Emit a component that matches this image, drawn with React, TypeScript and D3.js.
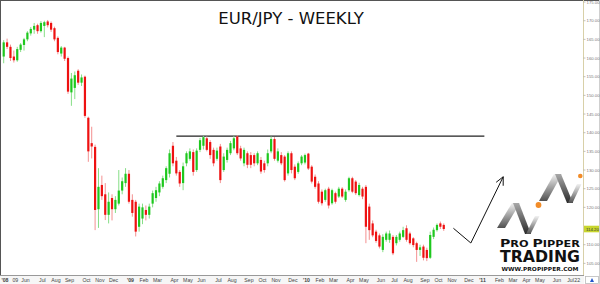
import React from 'react';
import * as d3 from 'd3';

const W = 600;
const H = 284;

// Weekly OHLC, EUR/JPY, first bar week of 2008-04-21, last bar week of 2010-10-18
const weekOpen = [
  160.4, 164.2, 163.0, 160.4, 159.4, 162.2, 163.5, 165.0, 166.6, 167.6,
  168.8, 167.2, 168.6, 169.8, 169.4, 168.0, 165.4, 161.2, 162.8, 160.0,
  150.8, 152.0, 156.6, 153.4, 155.0, 144.0, 137.2, 136.2, 119.5, 126.0,
  123.5, 118.0, 122.5, 119.5, 121.0, 124.5, 126.5, 129.0, 122.0, 121.5,
  114.8, 117.0, 119.3, 118.0, 121.0, 122.5, 124.0, 125.5, 127.3, 129.0,
  136.5, 132.5, 129.5, 126.5, 131.8, 133.0, 134.8, 130.0, 135.4, 136.5,
  138.5, 137.5, 135.4, 133.0, 136.3, 130.0, 132.7, 134.5, 135.8, 139.0,
  135.8, 131.8, 134.5, 134.0, 134.0, 131.8, 132.7, 131.8, 131.8, 135.0,
  138.3, 132.5, 134.0, 133.6, 129.1, 134.5, 130.9, 129.5, 131.8, 132.0,
  134.4, 130.9, 128.2, 126.4, 124.2, 122.0, 125.0, 121.1, 123.8, 122.9,
  125.0, 122.0, 124.6, 127.8, 126.9, 123.3, 125.0, 125.5, 120.2, 115.7,
  113.5, 112.5, 108.6, 111.3, 111.3, 112.1, 110.4, 111.3, 112.1, 114.4,
  113.0, 111.7, 110.4, 108.6, 109.5, 108.6, 106.5, 112.1, 113.9, 115.7,
  115.3,
];
const weekHigh = [
  164.8, 165.2, 163.6, 162.0, 163.0, 164.0, 165.4, 167.2, 168.3, 169.4,
  169.2, 169.9, 170.0, 170.2, 169.8, 168.4, 165.8, 163.2, 163.0, 160.4,
  156.0, 156.4, 157.0, 155.6, 155.3, 144.3, 141.6, 136.8, 130.5, 128.5,
  126.5, 124.0, 123.5, 123.0, 130.0, 128.0, 130.5, 130.0, 123.5, 122.0,
  121.0, 121.0, 120.5, 121.0, 124.5, 125.5, 127.0, 128.5, 131.0, 135.5,
  137.5, 133.5, 130.0, 132.0, 135.0, 135.8, 135.5, 135.8, 138.6, 139.1,
  139.0, 138.0, 136.0, 136.0, 137.0, 134.5, 136.0, 137.8, 139.1, 139.3,
  136.5, 136.0, 135.0, 134.8, 134.5, 135.0, 133.5, 132.5, 135.5, 139.0,
  138.8, 135.8, 134.8, 134.0, 135.0, 135.0, 131.5, 132.3, 134.0, 134.4,
  134.6, 131.3, 128.8, 127.0, 124.8, 125.0, 125.5, 125.0, 124.2, 125.5,
  125.4, 124.8, 128.2, 128.2, 127.3, 126.6, 125.5, 126.0, 121.0, 116.5,
  114.0, 113.0, 112.8, 113.5, 113.8, 112.6, 112.6, 113.5, 114.8, 115.2,
  113.5, 112.0, 110.8, 110.0, 110.0, 109.2, 113.5, 114.6, 115.7, 116.2,
  115.7,
];
const weekLow = [
  158.6, 162.4, 159.2, 158.8, 159.0, 161.6, 162.0, 164.5, 166.0, 166.5,
  166.5, 166.8, 165.6, 168.2, 167.0, 164.5, 161.0, 160.4, 159.2, 150.4,
  147.2, 149.0, 152.8, 152.5, 144.0, 132.2, 133.1, 113.9, 114.5, 122.0,
  116.6, 115.7, 116.5, 118.5, 120.5, 123.5, 125.5, 121.0, 117.5, 112.2,
  113.5, 115.5, 116.5, 117.0, 120.0, 121.5, 123.0, 125.0, 126.5, 128.0,
  131.0, 128.5, 125.5, 124.6, 131.0, 132.5, 128.5, 129.5, 134.8, 135.5,
  135.0, 133.0, 131.0, 132.5, 126.5, 129.5, 132.0, 134.0, 135.3, 134.0,
  132.5, 131.0, 130.5, 130.5, 131.0, 131.3, 129.0, 129.3, 131.0, 134.5,
  132.5, 132.0, 131.3, 126.9, 128.5, 129.1, 127.3, 129.0, 131.3, 131.5,
  130.0, 126.4, 125.0, 121.0, 120.5, 121.5, 119.7, 120.7, 121.0, 122.5,
  122.5, 121.5, 124.2, 123.8, 123.3, 122.9, 122.2, 110.4, 111.3, 112.0,
  110.5, 109.0, 108.0, 110.8, 110.5, 107.2, 109.8, 110.8, 111.8, 110.8,
  110.0, 109.3, 105.4, 107.0, 105.8, 105.6, 106.2, 111.5, 113.5, 114.2,
  113.7,
];
const weekClose = [
  164.2, 163.0, 160.0, 159.4, 162.4, 163.6, 165.0, 166.8, 167.8, 168.6,
  167.2, 169.4, 169.6, 168.8, 167.6, 165.0, 161.6, 162.8, 159.8, 151.0,
  154.5, 155.4, 153.4, 154.8, 144.5, 135.0, 136.3, 119.3, 125.5, 123.0,
  118.0, 121.5, 119.5, 122.0, 124.5, 127.0, 129.0, 121.5, 118.5, 113.5,
  120.2, 120.0, 118.0, 120.2, 123.8, 124.6, 126.4, 127.8, 130.5, 134.5,
  131.8, 129.1, 126.4, 131.0, 134.5, 135.0, 129.5, 135.2, 138.0, 138.8,
  135.4, 134.0, 131.8, 135.2, 127.3, 133.6, 135.4, 137.2, 138.5, 134.5,
  133.1, 135.4, 131.4, 131.4, 131.8, 134.5, 129.6, 130.0, 134.5, 138.3,
  133.0, 135.0, 131.8, 127.3, 134.5, 130.0, 127.8, 131.8, 133.6, 134.0,
  130.4, 126.9, 125.5, 121.5, 121.1, 124.6, 120.5, 124.6, 121.5, 125.0,
  122.9, 124.2, 127.8, 124.2, 123.8, 126.0, 122.9, 114.8, 113.9, 112.5,
  111.0, 109.5, 112.1, 113.0, 113.0, 107.7, 112.1, 113.0, 113.9, 111.3,
  110.4, 109.9, 108.6, 109.3, 106.5, 106.4, 112.6, 114.0, 115.3, 114.8,
  114.2,
];

const firstWeek = '2008-04-21';
const lastWeek = '2010-10-18';

const priceTicks = [105, 110, 115, 120, 125, 130, 135, 140, 145, 150, 155, 160, 165, 170, 175];

const tickDates = [
  '2008-04-21', '2008-05-12', '2008-06-02', '2008-07-07', '2008-08-04', '2008-09-01', '2008-10-06',
  '2008-11-03', '2008-12-01', '2009-01-05', '2009-02-02', '2009-03-02', '2009-04-06', '2009-05-04',
  '2009-06-01', '2009-07-06', '2009-08-03', '2009-09-07', '2009-10-05', '2009-11-02', '2009-12-07',
  '2010-01-04', '2010-02-01', '2010-03-01', '2010-04-05', '2010-05-03', '2010-06-07', '2010-07-05',
  '2010-08-02', '2010-09-06', '2010-10-04', '2010-11-01', '2010-12-06', '2011-01-03', '2011-02-07',
  '2011-03-07', '2011-04-04', '2011-05-02', '2011-06-06', '2011-07-04', '2011-07-18',
];
const tickLabels = [
  "'08", '09', 'Jun', 'Jul', 'Aug', 'Sep', 'Oct', 'Nov', 'Dec',
  "'09", 'Feb', 'Mar', 'Apr', 'May', 'Jun', 'Jul', 'Aug', 'Sep', 'Oct', 'Nov', 'Dec',
  "'10", 'Feb', 'Mar', 'Apr', 'May', 'Jun', 'Jul', 'Aug', 'Sep', 'Oct', 'Nov', 'Dec',
  "'11", 'Feb', 'Mar', 'Apr', 'May', 'Jun', 'Jul', '22',
];

const resistanceLevel = 139.1;
const resistanceStart = '2009-04-13';
const resistanceEnd = '2011-01-10';

const arrowDates = ['2010-11-07', '2010-12-13', '2011-02-18'];
const arrowPrices = [114.4, 110.45, 128.2];

const parse = d3.timeParse('%Y-%m-%d');

const GREEN = '#1ec81e';
const GREEN_W = '#86de86';
const RED = '#ee1111';
const RED_W = '#f39090';

export default function App() {
  const start = parse(firstWeek) as Date;
  const end = parse(lastWeek) as Date;
  const x = d3.scaleTime().domain([start, end]).range([3.7, 443.75]);
  const y = d3.scaleLinear().domain([105, 175]).range([263.36, 2.04]);

  const bars = weekClose.map((c, i) => ({
    date: d3.timeDay.offset(start, 7 * i),
    o: weekOpen[i],
    h: weekHigh[i],
    l: weekLow[i],
    c,
  }));

  const lastClose = weekClose[weekClose.length - 1];
  const lastY = y(lastClose);

  const arrowPts = arrowDates.map((d, i) => [x(parse(d) as Date), y(arrowPrices[i])] as [number, number]);
  const line = d3.line();
  const tip = arrowPts[arrowPts.length - 1];
  const prev = arrowPts[arrowPts.length - 2];
  const ang = Math.atan2(tip[1] - prev[1], tip[0] - prev[0]);
  const headLen = 9;
  const head1: [number, number] = [tip[0] - headLen * Math.cos(ang - 0.45), tip[1] - headLen * Math.sin(ang - 0.45)];
  const head2: [number, number] = [tip[0] - headLen * Math.cos(ang + 0.45), tip[1] - headLen * Math.sin(ang + 0.45)];

  const ribbon = (p: number[], q: number[], w: number) =>
    `M${p[0]},${p[1]} L${q[0]},${q[1]} L${q[0] + w},${q[1]} L${p[0] + w},${p[1]} Z`;

  return (
    <svg width={W} height={H} style={{ position: 'absolute', left: 0, top: 0, display: 'block' }}>
      <defs>
        <linearGradient id="zgUp" x1="0" y1="0" x2="0" y2="1">
          <stop offset="0" stopColor="#f2f2f2" />
          <stop offset="1" stopColor="#505050" />
        </linearGradient>
        <linearGradient id="zgDown" x1="0" y1="0" x2="0" y2="1">
          <stop offset="0" stopColor="#a8a8a8" />
          <stop offset="1" stopColor="#2a2a2a" />
        </linearGradient>
      </defs>
      <rect x={0} y={0} width={W} height={H} fill="#ffffff" />

      {/* frame */}
      <line x1={0} x2={W} y1={0.5} y2={0.5} stroke="#555" strokeWidth={1} />
      <line x1={0.5} x2={0.5} y1={0} y2={276} stroke="#555" strokeWidth={1} />

      {/* title */}
      <text x={291} y={24} textAnchor="middle" fontFamily="DejaVu Sans" fontSize={16.5} fill="#111">
        EUR/JPY - WEEKLY
      </text>

      {/* resistance line */}
      <line
        x1={x(parse(resistanceStart) as Date)}
        x2={x(parse(resistanceEnd) as Date)}
        y1={y(resistanceLevel)}
        y2={y(resistanceLevel)}
        stroke="#222"
        strokeWidth={1.3}
      />

      {/* candles */}
      {bars.map((b, i) => {
        const up = b.c >= b.o;
        const cx = x(b.date);
        const top = y(Math.max(b.o, b.c));
        const bot = y(Math.min(b.o, b.c));
        return (
          <g key={i}>
            <line x1={cx} x2={cx} y1={y(b.h)} y2={y(b.l)} stroke={up ? GREEN_W : RED_W} strokeWidth={1} />
            <rect x={cx - 1.1} y={top} width={2.2} height={Math.max(0.8, bot - top)} fill={up ? GREEN : RED} />
          </g>
        );
      })}

      {/* arrow annotation */}
      <path d={line(arrowPts) || ''} fill="none" stroke="#111" strokeWidth={1} />
      <path d={line([head1, tip, head2]) || ''} fill="none" stroke="#111" strokeWidth={1} />

      {/* logo zigzags */}
      <path d={ribbon([497, 228], [512, 203], 8)} fill="url(#zgUp)" />
      <path d={ribbon([513, 203], [525, 234], 6)} fill="url(#zgDown)" />
      <path d={ribbon([526, 234], [535, 216], 4.5)} fill="url(#zgUp)" />
      <path d={ribbon([539, 201], [554, 174], 8)} fill="url(#zgUp)" />
      <path d={ribbon([555, 174], [567, 203], 6)} fill="url(#zgDown)" />
      <path d={ribbon([568, 203], [577, 184], 4.5)} fill="url(#zgUp)" />
      <circle cx={538.5} cy={205} r={2.9} fill="#f28c28" />
      <circle cx={580.3} cy={176} r={2.3} fill="#f28c28" />

      <text x={500} y={246.5} fontFamily="DejaVu Sans" fontWeight="bold" fill="#111" textLength={80} lengthAdjust="spacingAndGlyphs">
        <tspan fontSize={11}>P</tspan>
        <tspan fontSize={8.8}>RO </tspan>
        <tspan fontSize={11}>P</tspan>
        <tspan fontSize={8.8}>IPPER</tspan>
      </text>
      <text x={500} y={262} fontFamily="DejaVu Sans" fontWeight="bold" fontSize={15} fill="#111" textLength={80} lengthAdjust="spacingAndGlyphs">
        TRADING
      </text>
      <text x={501.5} y={271} fontFamily="DejaVu Sans" fontWeight="bold" fontSize={5.4} fill="#111" textLength={77} lengthAdjust="spacingAndGlyphs">
        WWW.PROPIPPER.COM
      </text>

      {/* right axis */}
      <line x1={583.5} x2={583.5} y1={0} y2={276} stroke="#d8d0a8" strokeWidth={1} />
      <line x1={599.5} x2={599.5} y1={0} y2={284} stroke="#cfcfcf" strokeWidth={1} />
      {priceTicks.filter((p) => Math.abs(y(p) - lastY) > 5).map((p) => (
        <g key={p}>
          <line x1={583.5} x2={585.5} y1={y(p)} y2={y(p)} stroke="#999" strokeWidth={0.6} />
          <text x={586.5} y={y(p) + 1.5} fontFamily="Liberation Sans" fontSize={4.3} fill="#777">
            {p.toFixed(2)}
          </text>
        </g>
      ))}
      <rect x={584} y={lastY - 3.3} width={15} height={6.6} fill="#c8d62e" />
      <text x={586} y={lastY + 1.5} fontFamily="Liberation Sans" fontSize={4.3} fill="#333">
        {lastClose.toFixed(2)}
      </text>

      {/* bottom axis */}
      <rect x={0} y={275.5} width={584} height={8.5} fill="#f6f6f6" />
      <line x1={0} x2={584} y1={275.5} y2={275.5} stroke="#999" strokeWidth={1} />
      {tickDates.map((d, i) => {
        const lbl = tickLabels[i];
        const isYear = lbl.startsWith("'");
        const first = i === 0;
        return (
          <text
            key={d}
            x={first ? 1.5 : x(parse(d) as Date) + 1.5}
            y={282.2}
            textAnchor={first ? 'start' : 'middle'}
            fontFamily="Liberation Sans"
            fontSize={5.2}
            fontWeight={isYear ? 'bold' : 'normal'}
            fill="#444"
          >
            {lbl}
          </text>
        );
      })}
      <rect x={585.5} y={276.5} width={13} height={7} fill="#fff" stroke="#bbb" strokeWidth={0.8} />
      <path d="M590,282 L592,278 L594,282 Z" fill="#2255cc" />
    </svg>
  );
}
